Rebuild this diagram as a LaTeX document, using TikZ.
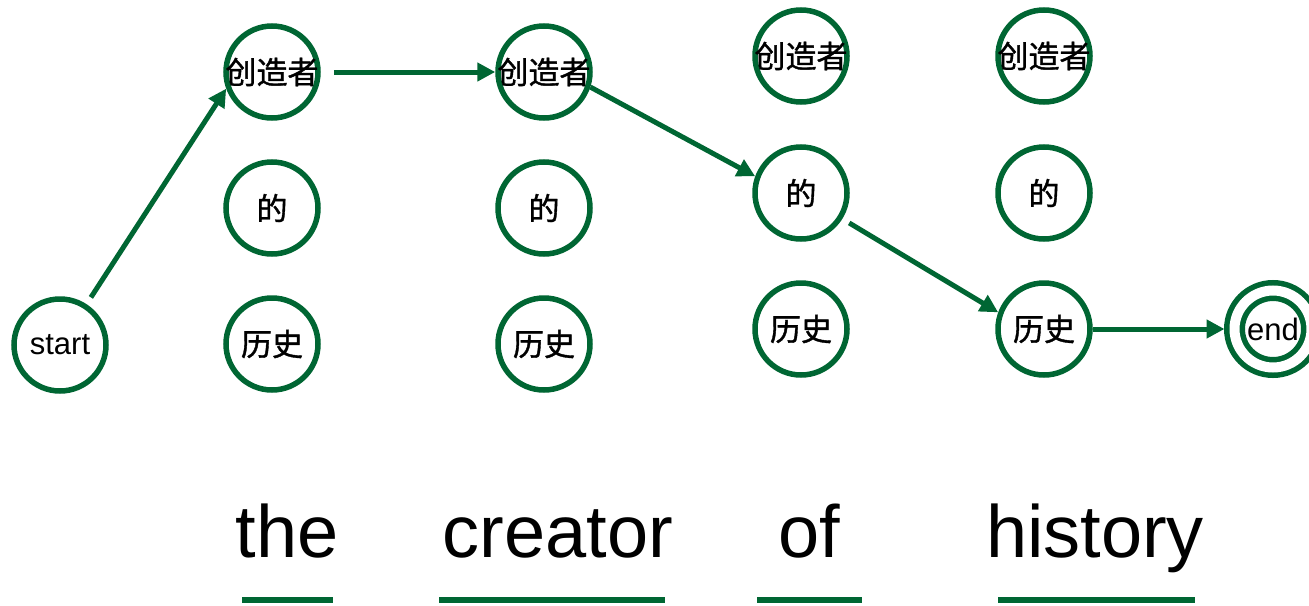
\documentclass[tikz,border=0pt]{standalone}
\usepackage{fontspec}
\setmainfont{Liberation Sans}
\newfontfamily\cjk[FakeBold=1.2]{Noto Sans CJK SC}
\usetikzlibrary{arrows.meta,positioning}
\definecolor{zold}{RGB}{0,102,51}
% wide labels may overhang the circle
\newcommand{\kozep}[1]{\makebox[0pt]{#1}}
\tikzset{
  kor/.style={circle,draw=zold,line width=5.5pt,minimum size=92pt,inner sep=0pt,
              font=\fontsize{31}{31}\selectfont},
  zaro/.style={kor,minimum size=77pt,double=white,double distance=10pt,outer sep=10pt},
  vnyil/.style={-{Triangle[length=18pt,width=18pt]},line width=5pt,draw=zold},
  szo/.style={anchor=base,inner sep=0pt,font=\fontsize{74}{74}\selectfont},
  alahuz/.style={line width=6pt,draw=zold},
}

\begin{document}
\begin{tikzpicture}[x=1pt,y=-1pt]
  \useasboundingbox (0,0) rectangle (1309,605);
  \node[kor] (start) at (60,345) {start};
  \node[kor] (k1a) at (272,72) {\kozep{\cjk 创造者}};
  \node[kor] (k1b) at (272,208) {\cjk 的};
  \node[kor] (k1c) at (272,344) {\cjk 历史};
  \node[kor] (k2a) at (544,72) {\kozep{\cjk 创造者}};
  \node[kor] (k2b) at (544,208) {\cjk 的};
  \node[kor] (k2c) at (544,344) {\cjk 历史};
  \node[kor] (k3a) at (801,56) {\kozep{\cjk 创造者}};
  \node[kor] (k3b) at (801,193) {\cjk 的};
  \node[kor] (k3c) at (801,329) {\cjk 历史};
  \node[kor] (k4a) at (1044,56) {\kozep{\cjk 创造者}};
  \node[kor] (k4b) at (1044,193) {\cjk 的};
  \node[kor] (k4c) at (1044,329) {\cjk 历史};
  \node[zaro] (vege) at (1273,329) {end};
  % the chosen path
  \draw[vnyil,shorten <=8pt] (start.57) -- (k1a.200);
  \draw[vnyil,shorten <=13pt] (k1a) -- (k2a);
  \draw[vnyil] (k2a.-18) -- (k3b.160);
  \draw[vnyil,shorten <=8pt] (k3b.-32) -- (k4c.160);
  \draw[vnyil] (k4c) -- (vege);
  % source words
  \node[szo] (the) at (287,557) {the};
  \node[szo] (creator) at (558,557) {creator};
  \node[szo] (of) at (809,557) {of};
  \node[szo] (history) at (1095,557) {history};
  \draw[alahuz] (242,600) -- (333,600);
  \draw[alahuz] (439,600) -- (665,600);
  \draw[alahuz] (757,600) -- (862,600);
  \draw[alahuz] (998,600) -- (1195,600);
\end{tikzpicture}
\end{document}
